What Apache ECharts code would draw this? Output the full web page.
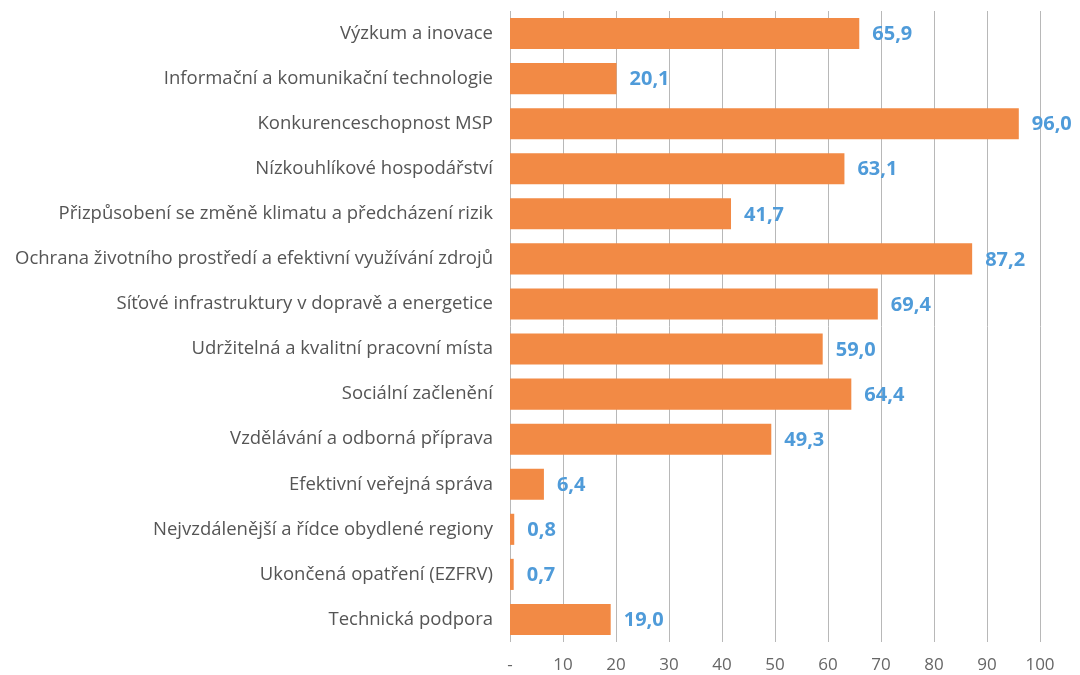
<!DOCTYPE html>
<html>
<head>
<meta charset="utf-8">
<script src="https://cdn.jsdelivr.net/npm/echarts@6/dist/echarts.min.js"></script>
<style>
  html, body { margin: 0; padding: 0; background: #fff; }
  #main { width: 1080px; height: 675px; }
</style>
</head>
<body>
<div id="main"></div>
<script>
// kategorie shora dolu
var categories = [
    'Výzkum a inovace',
    'Informační a komunikační technologie',
    'Konkurenceschopnost MSP',
    'Nízkouhlíkové hospodářství',
    'Přizpůsobení se změně klimatu a předcházení rizik',
    'Ochrana životního prostředí a efektivní využívání zdrojů',
    'Síťové infrastruktury v dopravě a energetice',
    'Udržitelná a kvalitní pracovní místa',
    'Sociální začlenění',
    'Vzdělávání a odborná příprava',
    'Efektivní veřejná správa',
    'Nejvzdálenější a řídce obydlené regiony',
    'Ukončená opatření (EZFRV)',
    'Technická podpora'
];
var values = [65.9, 20.1, 96.0, 63.1, 41.7, 87.2, 69.4, 59.0, 64.4, 49.3, 6.4, 0.8, 0.7, 19.0];
var xTicks = [0, 10, 20, 30, 40, 50, 60, 70, 80, 90, 100];

var font = '"Open Sans", sans-serif';

var myChart = echarts.init(document.getElementById('main'));
var option = {
    animation: false,
    grid: {left: 510, right: 40, top: 11, bottom: 33, containLabel: false},
    xAxis: {
        type: 'value',
        min: xTicks[0],
        max: xTicks[xTicks.length - 1],
        interval: 10,
        axisLine: {show: false},
        axisTick: {show: false},
        splitLine: {show: true, lineStyle: {color: '#b8b8b8', width: 1}},
        axisLabel: {
            color: '#666',
            fontSize: 17,
            fontFamily: font,
            margin: 15,
            formatter: function (v) { return v === 0 ? '-' : String(v); }
        }
    },
    yAxis: {
        type: 'category',
        data: categories,
        inverse: true,
        axisLine: {show: false},
        axisTick: {show: false},
        axisLabel: {color: '#555', fontSize: 18.5, fontFamily: font, margin: 17}
    },
    series: [{
        type: 'bar',
        data: values,
        barCategoryGap: '31%',
        itemStyle: {color: '#F28A45'},
        label: {
            show: true,
            position: 'right',
            distance: 13,
            offset: [0, 1],
            color: '#4F9BD9',
            fontSize: 20,
            fontWeight: 'bold',
            fontFamily: font,
            formatter: function (p) { return p.value.toFixed(1).replace('.', ','); }
        }
    }]
};
myChart.setOption(option);
window.onresize = myChart.resize;
</script>
</body>
</html>
